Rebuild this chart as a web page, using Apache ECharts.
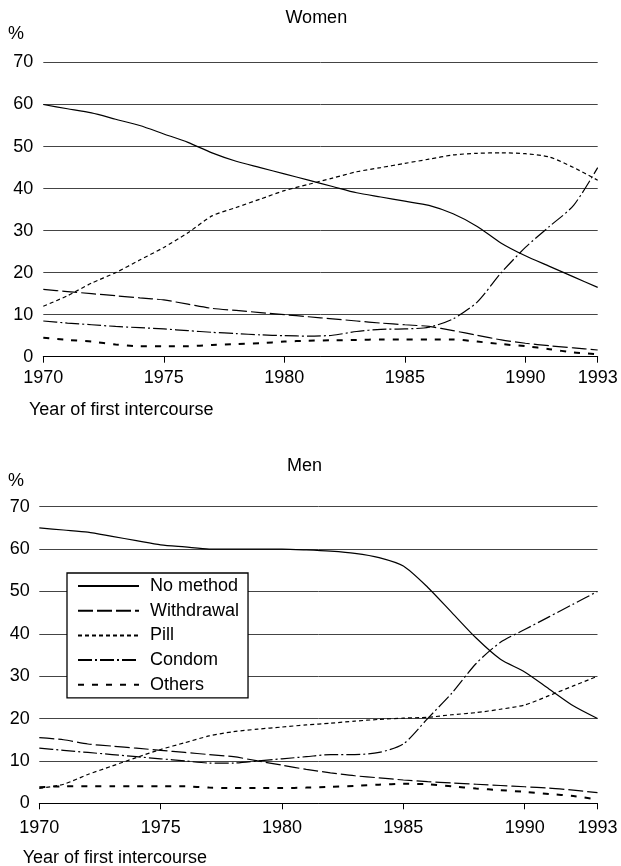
<!DOCTYPE html>
<html>
<head>
<meta charset="utf-8">
<script src="https://cdn.jsdelivr.net/npm/echarts@6/dist/echarts.min.js"></script>
<style>
html,body{margin:0;padding:0;background:#fff;}
#c{width:621px;height:866px;}
</style>
</head>
<body>
<div id="c"></div>
<script>
const years = [1970,1971,1972,1973,1974,1975,1976,1977,1978,1979,1980,1981,1982,1983,1984,1985,1986,1987,1988,1989,1990,1991,1992,1993];
const seriesNames = ['No method','Withdrawal','Pill','Condom','Others'];
const panelTitles = ['Women','Men'];
const yTicks = [0,10,20,30,40,50,60,70];
const xTickLabels = [1970,1975,1980,1985,1990,1993];

const womenNoMethod   = [60,59,58,56.5,55,53,51,48.5,46.5,45,43.5,42,40.5,39,38,37,36,34,31,27,24,21.5,19,16.5];
const womenWithdrawal = [16,15.5,15,14.5,14,13.5,12.5,11.5,11,10.5,10,9.5,9,8.5,8,7.6,7.2,6.2,5.1,4,3.2,2.6,2.1,1.6];
const womenPill       = [12,14.5,17.5,20,23,26,29.5,33.5,35.5,37.5,39.5,41,42.5,44,45,46,47,48,48.4,48.5,48.3,47.5,45,42];
const womenCondom     = [8.5,8,7.6,7.2,6.9,6.6,6.2,5.8,5.5,5.2,5,4.9,5.1,6,6.5,6.6,7,9,13,20,26,31,36,45];
const womenOthers     = [4.5,4,3.6,2.9,2.5,2.5,2.5,2.8,3,3.2,3.6,3.8,3.9,4,4.1,4.1,4.1,4.1,3.6,3,2.5,1.8,1,0.6];

const menNoMethod   = [65,64.5,64,63,62,61,60.5,60,60,60,60,59.8,59.5,59,58,56,51,45,39,34,31,27,23,20];
const menWithdrawal = [15.5,15,14,13.5,13,12.5,12,11.5,11,10,9,8,7.2,6.5,6,5.5,5.1,4.8,4.5,4.2,3.9,3.6,3.1,2.5];
const menPill       = [3.5,4.5,6.8,8.8,10.8,12.7,14.3,15.9,16.9,17.5,18,18.5,18.9,19.4,19.8,20.1,20.3,20.9,21.4,22.2,23.2,25.4,27.7,30];
const menCondom     = [13,12.5,12,11.5,11,10.5,10,9.5,9.5,10,10.5,11,11.5,11.5,12,14,20,26,33,38,41,44,47,50];
const menOthers     = [3.8,4,4,4,4,4,4,3.7,3.6,3.6,3.6,3.7,3.9,4.1,4.4,4.6,4.5,4,3.5,3.1,2.7,2.2,1.7,0.9];

const FONT = '"Liberation Sans", Arial, Helvetica, sans-serif';
const styles = {
  'No method':  {type:'solid', width:1.2},
  'Withdrawal': {type:[15,4], width:1.2},
  'Pill':       {type:[4,3], width:1.2},
  'Condom':     {type:[14,3,2,3], width:1.2},
  'Others':     {type:[6,8], width:2}
};

const womenData = [womenNoMethod, womenWithdrawal, womenPill, womenCondom, womenOthers];
const menData = [menNoMethod, menWithdrawal, menPill, menCondom, menOthers];

function pairs(arr){ return years.map((y,i)=>[y, arr[i]]); }

const series = [];
[womenData, menData].forEach((set, gi) => {
  set.forEach((arr, si) => {
    const nm = seriesNames[si];
    series.push({
      name: nm, type:'line', xAxisIndex: gi, yAxisIndex: gi,
      data: pairs(arr), symbol:'none', smooth:0.25,
      lineStyle:{color:'#000', width:styles[nm].width, type:styles[nm].type},
      itemStyle:{color:'#000'},
      emphasis:{disabled:true}, silent:true, z: 3
    });
  });
});

function xAxis(gi, margin){
  return {
    type:'value', gridIndex: gi, min: xTickLabels[0], max: xTickLabels[xTickLabels.length-1], interval:5,
    axisLine:{show:true, onZero:false, lineStyle:{color:'#000', width:1}},
    axisTick:{show:true, length:6, lineStyle:{color:'#000'}},
    axisLabel:{color:'#000', fontSize:18, fontFamily:FONT, margin:margin, showMinLabel:true, showMaxLabel:true,
      formatter: v => String(v)},
    splitLine:{show:false}
  };
}
function yAxis(gi, margin){
  return {
    type:'value', gridIndex: gi, min: yTicks[0], max: yTicks[yTicks.length-1], interval:10,
    axisLine:{show:false}, axisTick:{show:false},
    axisLabel:{color:'#000', fontSize:18, fontFamily:FONT, margin:margin},
    splitLine:{show:true, lineStyle:{color:'#444', width:1}}
  };
}

function txt(text, x, y, align){
  return {type:'text', x:x, y:y, silent:true,
    style:{text:text, font:'18px ' + FONT, fill:'#000', textAlign:align, textVerticalAlign:'middle'}};
}

const chart = echarts.init(document.getElementById('c'), null, {renderer:'canvas'});
chart.setOption({
  animation:false,
  backgroundColor:'#fff',
  grid:[
    {left:43.3, top:62.5, width:554.4, height:294.2},
    {left:39.3, top:506.7, width:558.2, height:296.6}
  ],
  xAxis:[xAxis(0, 12), xAxis(1, 16)],
  yAxis:[yAxis(0, 10), yAxis(1, 9.5)],
  legend:{
    data: seriesNames, orient:'vertical', left:67, top:573,
    itemWidth:61, itemHeight:14, itemGap:6.7,
    padding:[4,9,4,10],
    backgroundColor:'#fff', borderColor:'#000', borderWidth:1.3,
    itemStyle:{opacity:0, color:'transparent', borderWidth:0},
    textStyle:{color:'#000', fontSize:18, fontFamily:FONT, lineHeight:18, padding:[0,0,0,6]},
    selectedMode:false, inactiveColor:'#000'
  },
  graphic:[
    txt(panelTitles[0], 316.3, 18.5, 'center'),
    txt('%', 8, 34.5, 'left'),
    txt('Year of first intercourse', 29, 410, 'left'),
    txt(panelTitles[1], 304.5, 466, 'center'),
    txt('%', 8, 481.5, 'left'),
    txt('Year of first intercourse', 22.7, 858, 'left')
  ],
  series: series
});
</script>
</body>
</html>
